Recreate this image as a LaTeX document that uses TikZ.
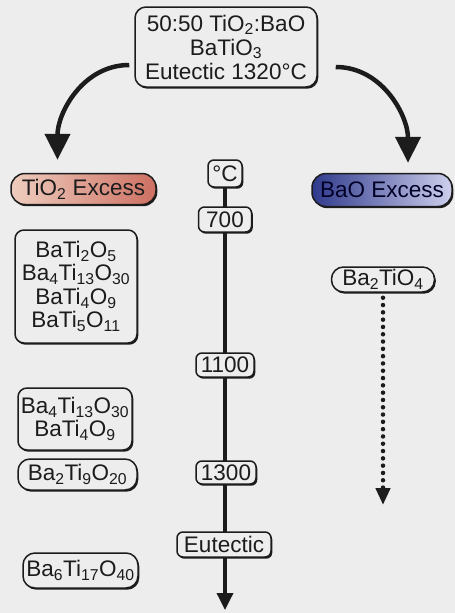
\documentclass[tikz,border=0pt]{standalone}
\usepackage{fontspec}
\setmainfont{Liberation Sans}
\usetikzlibrary{arrows.meta,shadows,backgrounds}
\definecolor{bgc}{RGB}{237,237,237}
\definecolor{ink}{RGB}{28,28,28}
\definecolor{tiL}{RGB}{238,205,190}
\definecolor{tiR}{RGB}{205,112,98}
\definecolor{baL}{RGB}{48,58,140}
\definecolor{baR}{RGB}{205,207,236}
\begin{document}
\begin{tikzpicture}[x=1pt,y=-1pt,
  lbl/.style={draw=ink, line width=1.5pt, fill=bgc, text=ink,
    font=\fontsize{22.5}{23.5}\selectfont, align=center, inner sep=0pt,
    rounded corners=9pt,
    drop shadow={shadow xshift=1.3pt,shadow yshift=-1.7pt,opacity=1,fill=ink}},
  pill/.style={lbl, rounded corners=12pt},
  tmp/.style={lbl, rounded corners=6pt},
  bigarrow/.style={line width=4.5pt, draw=ink, -{Triangle[length=26pt,width=25pt]}},
]
% nodes
\node[lbl, rounded corners=11pt, minimum width=182pt, minimum height=80pt] (top) at (226,47)
  {50:50 TiO\textsubscript{2}:BaO\\[0.5pt]BaTiO\textsubscript{3}\\[0.5pt]Eutectic 1320°C};
\node[pill, rounded corners=14pt, minimum width=145pt, minimum height=31pt,
  left color=tiL, right color=tiR] (tio) at (83.5,189) {TiO\textsubscript{2} Excess};
\node[pill, rounded corners=14pt, minimum width=140pt, minimum height=33pt,
  left color=baL, right color=baR, text=black!85!blue] (bao) at (382,190) {BaO Excess};
\node[tmp, minimum width=34pt, minimum height=27pt] (degc) at (225,173.5) {°C};
\node[tmp, minimum width=53pt, minimum height=25pt] (t700) at (225,219.5) {700};
\node[tmp, minimum width=58pt, minimum height=24pt] (t1100) at (225,365) {1100};
\node[tmp, minimum width=60pt, minimum height=23pt] (t1300) at (226,472.5) {1300};
\node[tmp, minimum width=94pt, minimum height=25pt] (teut) at (224,544.5) {Eutectic};
\node[lbl, minimum width=122pt, minimum height=113pt] (boxa) at (76,286.5)
  {BaTi\textsubscript{2}O\textsubscript{5}\\Ba\textsubscript{4}Ti\textsubscript{13}O\textsubscript{30}\\BaTi\textsubscript{4}O\textsubscript{9}\\BaTi\textsubscript{5}O\textsubscript{11}};
\node[lbl, minimum width=114pt, minimum height=62pt] (boxb) at (75,419)
  {Ba\textsubscript{4}Ti\textsubscript{13}O\textsubscript{30}\\BaTi\textsubscript{4}O\textsubscript{9}};
\node[pill, minimum width=119pt, minimum height=31pt] (boxc) at (77.5,474.5)
  {Ba\textsubscript{2}Ti\textsubscript{9}O\textsubscript{20}};
\node[pill, minimum width=115pt, minimum height=35pt] (boxd) at (80.5,570.5)
  {Ba\textsubscript{6}Ti\textsubscript{17}O\textsubscript{40}};
\node[pill, minimum width=103pt, minimum height=25pt] (bat) at (383,279.5)
  {Ba\textsubscript{2}TiO\textsubscript{4}};
\coordinate (axisend) at (225,610);
\coordinate (dotend) at (383,505);
% connectors
\begin{pgfonlayer}{background}
  \fill[bgc] (0,0) rectangle (455,613);
  \draw[line width=3.5pt, draw=ink, -{Triangle[length=17pt,width=16pt]}] (degc) -- (axisend);
\end{pgfonlayer}
\draw[bigarrow] ([xshift=-5pt,yshift=-18pt]top.west) to[out=180,in=90] ([xshift=-26pt,yshift=13pt]tio.north);
\draw[bigarrow] ([xshift=18pt,yshift=-20pt]top.east) to[out=0,in=90] ([xshift=26pt,yshift=10pt]bao.north);
\draw[line width=4.5pt, draw=ink, line cap=round, dash pattern=on 0pt off 7.3pt,
  -{Triangle[length=17pt,width=14pt]}] ([yshift=-5pt]bat.south) -- (dotend);
\end{tikzpicture}
\end{document}
